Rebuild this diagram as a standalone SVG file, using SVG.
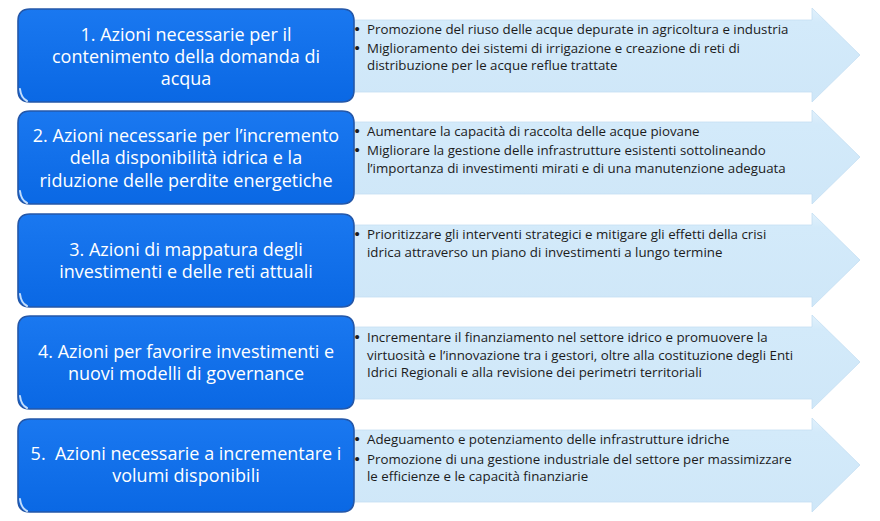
<svg xmlns="http://www.w3.org/2000/svg" width="880" height="521" viewBox="0 0 880 521">
  <defs>
    <linearGradient id="boxGrad" x1="0" y1="0" x2="0" y2="1">
      <stop offset="0" stop-color="#1a78f0"/>
      <stop offset="1" stop-color="#0a68e4"/>
    </linearGradient>
    <linearGradient id="arrGrad" x1="0" y1="0" x2="0" y2="1">
      <stop offset="0" stop-color="#e2f1fc"/>
      <stop offset="0.15" stop-color="#d3eafa"/>
      <stop offset="1" stop-color="#cfe7f8"/>
    </linearGradient>
    <path id="arrow" d="M350,11 L812,11 L812,-1 L860,46 L812,93 L812,83 L350,83 Z"/>
    <path id="box" d="M12,0 H324 Q336,0 336,12 V81 Q336,93 324,93 H12 Q0,93 0,81 V12 Q0,0 12,0 Z"/>
  </defs>
  <style>
    .arr { fill: url(#arrGrad); stroke: #c4def2; stroke-width: 0.8; }
    .box { fill: url(#boxGrad); stroke: #2457a8; stroke-width: 1.6; }
    .hl { fill: none; stroke: #d6eaff; stroke-width: 2; stroke-linecap: round; opacity: 0.9; }
    .title { font-family: "Open Sans", "DejaVu Sans", sans-serif; font-size: 18px; fill: #ffffff; text-anchor: middle; white-space: pre; }
    .item { font-family: "Open Sans", "DejaVu Sans", sans-serif; font-size: 13.3px; fill: #1c1c1c; }
    .bul { font-family: "Liberation Sans", Arial, sans-serif; font-size: 15px; fill: #1c1c1c; }
  </style>
  <rect width="880" height="521" fill="#ffffff"/>

  <g id="connectors"></g>

  <!-- Row 1 -->
  <g id="row1-detail" transform="translate(0,9)">
    <use href="#arrow" class="arr"/>
  </g>
  <g id="row1-box" transform="translate(18,9)">
    <use href="#box" class="box"/>
    <path class="hl" d="M2,80 Q3,89 9,92"/>
  </g>
  <g id="row1-title">
    <text class="title" x="186" y="40.5">1. Azioni necessarie per il</text>
    <text class="title" x="186" y="63">contenimento della domanda di</text>
    <text class="title" x="186" y="85">acqua</text>
  </g>
  <g id="row1-text">
    <text class="bul" x="354.5" y="33.5">•</text>
    <text class="item" x="367" y="33.5">Promozione del riuso delle acque depurate in agricoltura e industria</text>
    <text class="bul" x="354.5" y="52.5">•</text>
    <text class="item" x="367" y="52.5">Miglioramento dei sistemi di irrigazione e creazione di reti di</text>
    <text class="item" x="367" y="70">distribuzione per le acque reflue trattate</text>
  </g>

  <!-- Row 2 -->
  <g id="row2-detail" transform="translate(0,111)">
    <use href="#arrow" class="arr"/>
  </g>
  <g id="row2-box" transform="translate(18,111)">
    <use href="#box" class="box"/>
    <path class="hl" d="M2,80 Q3,89 9,92"/>
  </g>
  <g id="row2-title">
    <text class="title" x="186" y="141.5">2. Azioni necessarie per l’incremento</text>
    <text class="title" x="186" y="164">della disponibilità idrica e la</text>
    <text class="title" x="186" y="186.5">riduzione delle perdite energetiche</text>
  </g>
  <g id="row2-text">
    <text class="bul" x="354.5" y="136">•</text>
    <text class="item" x="367" y="136">Aumentare la capacità di raccolta delle acque piovane</text>
    <text class="bul" x="354.5" y="155">•</text>
    <text class="item" x="367" y="155">Migliorare la gestione delle infrastrutture esistenti sottolineando</text>
    <text class="item" x="367" y="172.5">l’importanza di investimenti mirati e di una manutenzione adeguata</text>
  </g>

  <!-- Row 3 -->
  <g id="row3-detail" transform="translate(0,214)">
    <use href="#arrow" class="arr"/>
  </g>
  <g id="row3-box" transform="translate(18,214)">
    <use href="#box" class="box"/>
    <path class="hl" d="M2,80 Q3,89 9,92"/>
  </g>
  <g id="row3-title">
    <text class="title" x="186" y="255.5">3. Azioni di mappatura degli</text>
    <text class="title" x="186" y="277.5">investimenti e delle reti attuali</text>
  </g>
  <g id="row3-text">
    <text class="bul" x="354.5" y="238.5">•</text>
    <text class="item" x="367" y="238.5">Prioritizzare gli interventi strategici e mitigare gli effetti della crisi</text>
    <text class="item" x="367" y="256.5">idrica attraverso un piano di investimenti a lungo termine</text>
  </g>

  <!-- Row 4 -->
  <g id="row4-detail" transform="translate(0,316)">
    <use href="#arrow" class="arr"/>
  </g>
  <g id="row4-box" transform="translate(18,316)">
    <use href="#box" class="box"/>
    <path class="hl" d="M2,80 Q3,89 9,92"/>
  </g>
  <g id="row4-title">
    <text class="title" x="186" y="358">4. Azioni per favorire investimenti e</text>
    <text class="title" x="186" y="380">nuovi modelli di governance</text>
  </g>
  <g id="row4-text">
    <text class="bul" x="354.5" y="342">•</text>
    <text class="item" x="367" y="342">Incrementare il finanziamento nel settore idrico e promuovere la</text>
    <text class="item" x="367" y="359.5">virtuosità e l’innovazione tra i gestori, oltre alla costituzione degli Enti</text>
    <text class="item" x="367" y="377">Idrici Regionali e alla revisione dei perimetri territoriali</text>
  </g>

  <!-- Row 5 -->
  <g id="row5-detail" transform="translate(0,419)">
    <use href="#arrow" class="arr"/>
  </g>
  <g id="row5-box" transform="translate(18,419)">
    <use href="#box" class="box"/>
    <path class="hl" d="M2,80 Q3,89 9,92"/>
  </g>
  <g id="row5-title">
    <text class="title" x="186" y="460">5.  Azioni necessarie a incrementare i</text>
    <text class="title" x="186" y="482">volumi disponibili</text>
  </g>
  <g id="row5-text">
    <text class="bul" x="354.5" y="444">•</text>
    <text class="item" x="367" y="444">Adeguamento e potenziamento delle infrastrutture idriche</text>
    <text class="bul" x="354.5" y="463.5">•</text>
    <text class="item" x="367" y="463.5">Promozione di una gestione industriale del settore per massimizzare</text>
    <text class="item" x="367" y="481">le efficienze e le capacità finanziarie</text>
  </g>
</svg>
